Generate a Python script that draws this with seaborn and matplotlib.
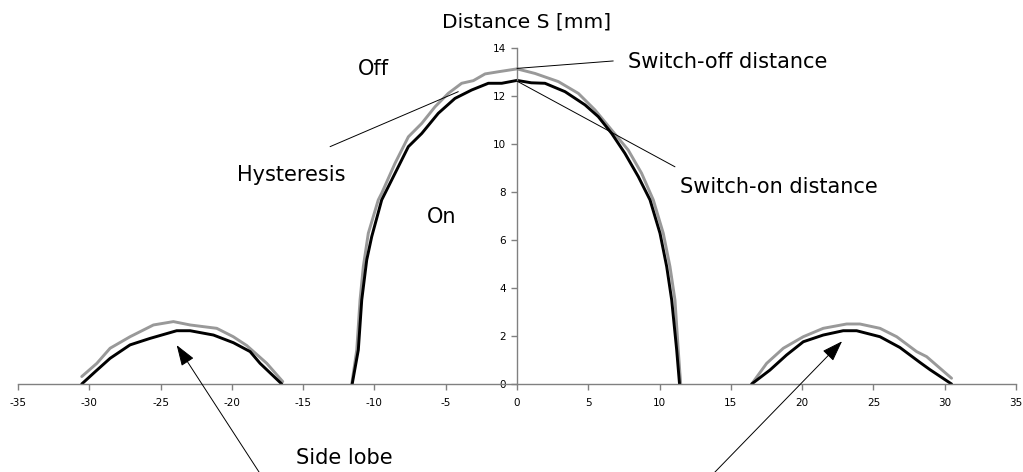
import matplotlib
matplotlib.use("Agg")
import matplotlib.pyplot as plt
import seaborn as sns
import pandas as pd

# ---- data ----
x_on_left = [-30.53, -29.59, -28.54, -27.14, -25.74, -23.87, -22.93, -21.29, -19.89, -18.72, -18.02, -16.50]
y_on_left = [0.0, 0.51, 1.07, 1.63, 1.90, 2.22, 2.22, 2.04, 1.72, 1.35, 0.86, 0.0]

x_on_main = [-11.56, -11.13, -10.89, -10.54, -10.19, -9.49, -8.79, -7.62, -6.68, -5.52, -4.35, -3.18,
             -2.01, -1.07, 0.0, 1.0, 1.96, 3.37, 4.77, 5.70, 6.64, 7.57, 8.51, 9.33, 10.03, 10.50,
             10.85, 11.20, 11.40]
y_on_main = [0.0, 1.42, 3.50, 5.17, 6.14, 7.67, 8.50, 9.89, 10.44, 11.28, 11.90, 12.25,
             12.53, 12.53, 12.65, 12.55, 12.53, 12.18, 11.63, 11.14, 10.44, 9.61, 8.64, 7.67, 6.28, 4.89,
             3.50, 1.42, 0.0]

x_on_right = [16.46, 17.74, 18.91, 20.08, 21.48, 22.88, 23.82, 25.46, 26.86, 28.26, 28.96, 30.48]
y_on_right = [0.0, 0.58, 1.21, 1.76, 2.04, 2.22, 2.22, 1.97, 1.52, 0.90, 0.60, 0.0]

x_off_left = [-30.53, -29.47, -28.54, -27.14, -25.50, -24.10, -22.93, -22.00, -21.06, -19.90, -18.95, -17.55, -16.43]
y_off_left = [0.31, 0.86, 1.49, 1.97, 2.46, 2.60, 2.46, 2.39, 2.32, 1.97, 1.60, 0.86, 0.10]

x_off_main = [-11.59, -11.24, -11.01, -10.78, -10.43, -9.73, -9.49, -8.56, -7.62, -6.68, -5.75, -4.82,
              -3.88, -3.06, -2.24, -1.31, 0.0, 1.26, 2.90, 4.30, 5.47, 6.64, 7.80, 8.74, 9.56, 10.26,
              10.73, 11.08, 11.31, 11.48]
y_off_main = [0.0, 1.42, 3.50, 4.89, 6.28, 7.67, 7.95, 9.19, 10.30, 10.86, 11.55, 12.11,
              12.53, 12.64, 12.92, 13.01, 13.13, 12.94, 12.60, 12.11, 11.42, 10.58, 9.75, 8.78, 7.67, 6.28,
              4.89, 3.50, 1.42, 0.0]

x_off_right = [16.46, 17.51, 18.68, 20.08, 21.48, 23.12, 24.05, 25.46, 26.63, 28.03, 28.73, 30.48]
y_off_right = [0.0, 0.86, 1.49, 1.97, 2.32, 2.50, 2.50, 2.32, 1.97, 1.35, 1.14, 0.24]

x_ticks = [-35, -30, -25, -20, -15, -10, -5, 0, 5, 10, 15, 20, 25, 30, 35]
y_ticks = [0, 2, 4, 6, 8, 10, 12, 14]
series_names = ["Switch-off", "Switch-on"]

# ---- build long table ----
frames = []
for name, lobes in [
    ("Switch-off", [(x_off_left, y_off_left), (x_off_main, y_off_main), (x_off_right, y_off_right)]),
    ("Switch-on", [(x_on_left, y_on_left), (x_on_main, y_on_main), (x_on_right, y_on_right)]),
]:
    for i, (xs, ys) in enumerate(lobes):
        frames.append(pd.DataFrame({"x": xs, "y": ys, "series": name, "lobe": f"{name}-{i}"}))
df = pd.concat(frames, ignore_index=True)

sns.set_style("white")
plt.rcParams["font.family"] = ["DejaVu Sans"]
plt.rcParams["text.color"] = "black"
plt.rcParams["xtick.color"] = "black"
plt.rcParams["ytick.color"] = "black"

fig = plt.figure(figsize=(10.23, 4.72), dpi=100)
ax = fig.add_axes([18 / 1023, 88 / 472, 998 / 1023, 336 / 472])

sns.lineplot(data=df, x="x", y="y", hue="series", hue_order=series_names, units="lobe",
             estimator=None, sort=False, palette={"Switch-off": "#999999", "Switch-on": "#000000"},
             linewidth=2.1, legend=False, ax=ax)

ax.set_xlim(-35, 35)
ax.set_ylim(0, 14)
ax.set_xticks(x_ticks)
ax.set_yticks(y_ticks)
ax.set_xticklabels([str(v) for v in x_ticks])
ax.set_yticklabels([str(v) for v in y_ticks])
ax.set_xlabel("")
ax.set_ylabel("")

for s in ["top", "right"]:
    ax.spines[s].set_visible(False)
ax.spines["left"].set_position(("data", 0))
ax.spines["bottom"].set_position(("data", 0))
for s in ["left", "bottom"]:
    ax.spines[s].set_color("#808080")
    ax.spines[s].set_linewidth(1.0)
ax.tick_params(axis="both", which="major", direction="out", length=4, width=1.0,
               color="#808080", labelsize=7.5, labelcolor="black", pad=4,
               bottom=True, left=True, top=False, right=False)
ax.tick_params(axis="x", pad=6)
ax.grid(False)

# ---- title over the y axis ----
ax.text(0.65, 14.85, "Distance S [mm]", ha="center", va="baseline", fontsize=14.5, color="black")

# ---- annotations ----
fs = 15
line_kw = dict(arrowstyle="-", lw=0.7, color="black", shrinkA=0, shrinkB=0)
ax.text(-10.08, 12.87, "Off", ha="center", va="baseline", fontsize=fs, color="black")
ax.text(-5.28, 6.72, "On", ha="center", va="baseline", fontsize=fs, color="black")

ax.text(-12.06, 8.46, "Hysteresis", ha="right", va="baseline", fontsize=fs, color="black")
ax.annotate("", xy=(-4.12, 12.18), xytext=(-13.11, 9.89), arrowprops=line_kw)

ax.text(7.8, 13.15, "Switch-off distance", ha="left", va="baseline", fontsize=fs, color="black")
ax.annotate("", xy=(0, 13.15), xytext=(6.75, 13.46), arrowprops=line_kw)

ax.text(11.43, 7.96, "Switch-on distance", ha="left", va="baseline", fontsize=fs, color="black")
ax.annotate("", xy=(0, 12.62), xytext=(11.08, 9.05), arrowprops=line_kw)

ax.text(-12.13, -3.33, "Side lobe", ha="center", va="baseline", fontsize=fs, color="black")
arrow_kw = dict(arrowstyle="-|>,head_length=1.3,head_width=0.45", mutation_scale=10,
                lw=0.7, color="black", shrinkA=0, shrinkB=0)
ax.annotate("", xy=(-23.87, 1.62), xytext=(-17.95, -3.8), arrowprops=arrow_kw, annotation_clip=False)
ax.annotate("", xy=(22.8, 1.78), xytext=(13.67, -3.8), arrowprops=arrow_kw, annotation_clip=False)

fig.savefig("out.png", dpi=100)
